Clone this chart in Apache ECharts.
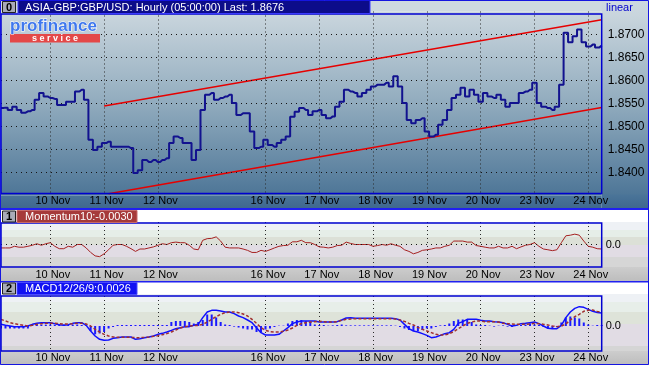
<!DOCTYPE html>
<html><head><meta charset="utf-8">
<script src="https://cdn.jsdelivr.net/npm/echarts@6/dist/echarts.min.js"></script>
<style>html,body{margin:0;padding:0;background:#fff}#c{width:649px;height:365px}</style>
</head><body><div id="c"></div><script>
const dayLabels = ['10 Nov','11 Nov','12 Nov','16 Nov','17 Nov','18 Nov','19 Nov','20 Nov','23 Nov','24 Nov'];
const dayIndex = [11,23,35,59,71,83,95,107,119,131];
const priceTicks = [1.840,1.845,1.850,1.855,1.860,1.865,1.870];
const lastPrice = 1.8676;
const price = [1.8540,1.8541,1.8536,1.8543,1.8536,1.8530,1.8533,1.8536,1.8558,1.8573,
 1.8565,1.8562,1.8560,1.8547,1.8547,1.8554,1.8554,1.8576,1.8580,1.8558,
 1.8471,1.8449,1.8456,1.8464,1.8467,1.8456,1.8456,1.8456,1.8456,1.8453,
 1.8399,1.8405,1.8427,1.8423,1.8427,1.8423,1.8427,1.8431,1.8464,1.8478,
 1.8475,1.8464,1.8464,1.8427,1.8449,1.8536,1.8569,1.8573,1.8558,1.8562,
 1.8565,1.8569,1.8551,1.8525,1.8529,1.8529,1.8489,1.8453,1.8456,1.8471,
 1.8460,1.8456,1.8464,1.8471,1.8478,1.8521,1.8532,1.8540,1.8536,1.8525,
 1.8533,1.8536,1.8525,1.8518,1.8522,1.8543,1.8554,1.8580,1.8576,1.8573,
 1.8565,1.8573,1.8580,1.8587,1.8591,1.8591,1.8595,1.8587,1.8609,1.8587,
 1.8551,1.8514,1.8507,1.8514,1.8518,1.8489,1.8478,1.8482,1.8504,1.8514,
 1.8536,1.8562,1.8569,1.8584,1.8565,1.8580,1.8569,1.8554,1.8573,1.8565,
 1.8562,1.8569,1.8558,1.8543,1.8551,1.8551,1.8573,1.8576,1.8580,1.8595,
 1.8551,1.8543,1.8540,1.8536,1.8543,1.8591,1.8704,1.8683,1.8696,1.8711,
 1.8683,1.8674,1.8678,1.8672,1.8676];
const upperTrend = [[23, 1.85446], [134, 1.8732]];
const lowerTrend = [[24, 1.83539], [134, 1.85411]];
const momentum = [-0.0023,-0.0023,-0.0023,-0.0012,-0.0018,-0.0018,-0.0012,-0.0005,0.0005,-0.0005,
 0.0005,0.0012,-0.0012,-0.0028,-0.0028,-0.0012,-0.0018,0.0000,0.0000,-0.0023,
 -0.0053,-0.0076,-0.0081,-0.0062,-0.0035,-0.0005,0.0000,0.0000,-0.0012,-0.0028,
 -0.0046,-0.0030,-0.0030,-0.0023,-0.0016,-0.0005,0.0005,0.0000,0.0012,0.0016,
 0.0012,0.0012,-0.0005,-0.0030,-0.0035,0.0028,0.0039,0.0041,0.0051,0.0023,
 -0.0018,-0.0023,-0.0023,-0.0023,-0.0030,-0.0039,-0.0053,-0.0053,-0.0039,-0.0046,
 -0.0035,-0.0023,-0.0012,-0.0007,-0.0005,0.0018,0.0018,0.0028,0.0012,0.0012,
 0.0000,-0.0016,-0.0018,-0.0023,-0.0018,-0.0007,-0.0005,0.0016,0.0007,0.0000,
 0.0000,0.0000,0.0000,-0.0012,-0.0007,0.0000,-0.0005,0.0005,-0.0005,-0.0012,
 -0.0035,-0.0046,-0.0062,-0.0053,-0.0039,-0.0035,-0.0030,-0.0023,-0.0023,-0.0012,
 -0.0005,0.0023,0.0023,0.0023,0.0016,0.0016,-0.0007,-0.0012,-0.0018,-0.0023,
 -0.0023,-0.0012,-0.0023,-0.0023,-0.0012,-0.0028,-0.0016,-0.0005,0.0000,0.0012,
 -0.0012,-0.0030,-0.0035,-0.0041,-0.0035,0.0012,0.0058,0.0062,0.0069,0.0062,
 0.0023,-0.0012,-0.0018,-0.0028,-0.0030];
const macd = [0.00033,0.00013,0,-0.00013,-0.00013,-0.00013,0,0.00033,0.00053,0.00067,
 0.00067,0.00067,0.00047,0.00027,0.00013,0.00027,0.00053,0.00067,0.00067,0.00013,
 -0.0010,-0.0020,-0.00267,-0.00287,-0.0028,-0.00247,-0.00233,-0.0022,-0.0022,-0.0022,
 -0.00267,-0.00253,-0.00233,-0.0022,-0.0020,-0.00167,-0.00147,-0.0012,-0.00087,-0.00053,
 -0.00033,-0.00013,-0.00013,0.00013,0.00033,0.00167,0.0028,0.00313,0.00313,0.0030,
 0.0028,0.0028,0.00247,0.0020,0.00167,0.0012,0.00067,-0.00033,-0.00133,-0.0018,
 -0.0018,-0.0018,-0.00167,-0.0010,-0.00033,0.00047,0.0008,0.0010,0.0010,0.0010,
 0.0010,0.0008,0.0008,0.0008,0.0008,0.00087,0.0012,0.0016,0.00167,0.00153,
 0.00153,0.00153,0.00153,0.00153,0.00153,0.00153,0.00153,0.00153,0.00147,0.0012,
 0.00033,-0.00053,-0.0010,-0.0012,-0.00153,-0.00187,-0.00233,-0.0022,-0.00187,-0.00153,
 -0.00133,-0.00067,0.00053,0.00087,0.00133,0.00133,0.00133,0.00113,0.0010,0.0010,
 0.00087,0.0008,0.00067,0.00033,0,0.00013,0.00047,0.00053,0.00067,0.0008,
 0.00047,0,-0.00047,-0.00053,-0.00053,0.00013,0.00167,0.0028,0.00353,0.00387,
 0.00373,0.00333,0.00293,0.0027,0.0026];
const signal = [0.00133,0.0010,0.00067,0.00047,0.00027,0.00013,0,0.00013,0.00033,0.00047,
 0.00053,0.00053,0.00053,0.00047,0.0004,0.0004,0.00047,0.00053,0.00053,0.0004,
 0,-0.00067,-0.0012,-0.00167,-0.0020,-0.0022,-0.00227,-0.00227,-0.00227,-0.00227,
 -0.00233,-0.00233,-0.00227,-0.0022,-0.00207,-0.00193,-0.00173,-0.00153,-0.0012,-0.0008,
 -0.0004,-0.00013,0,0.00007,0.00013,0.00033,0.0008,0.00133,0.00187,0.00233,
 0.00267,0.0028,0.0028,0.00267,0.0024,0.0020,0.00133,0.00053,-0.00033,-0.00087,
 -0.00113,-0.0012,-0.0012,-0.00107,-0.0008,-0.0004,0.00013,0.00047,0.00067,0.0008,
 0.00087,0.00093,0.00087,0.0008,0.0008,0.00087,0.00113,0.00133,0.0014,0.00147,
 0.00147,0.00147,0.00147,0.00147,0.00147,0.00147,0.00147,0.00147,0.0014,0.0012,
 0.00093,0.00053,0.0002,-0.00027,-0.00067,-0.0010,-0.00133,-0.00167,-0.0018,-0.0018,
 -0.00153,-0.00113,-0.00053,0,0.00053,0.0008,0.0010,0.0010,0.00087,0.00087,
 0.00087,0.0008,0.00053,0.00047,0.0004,0.00033,0.00033,0.00033,0.0004,0.00053,
 0.00047,0.00033,0.0002,0,-0.00013,0,0.0004,0.0012,0.00187,0.00233,
 0.00293,0.00313,0.0032,0.0029,0.0028];
const hist = [-0.0005,-0.0005,-0.0005,-0.0005,-0.0005,-0.0005,-0.0005,0.00027,0.00027,0.00027,
 0.00027,0.0003,0.0002,0.0003,0.0003,0.0002,0.0003,0.0003,0.0002,0.0002,
 -0.0010,-0.00167,-0.0015,-0.0012,-0.0005,-0.0002,0.0002,0.0002,0.0002,0.0002,
 0.0002,0.0002,0.0002,0.0002,0.0002,0.0002,0.0002,0.0002,0.0008,0.0010,
 0.0010,0.0010,0.0008,0.0005,0.0008,0.0012,0.0023,0.0023,0.0017,0.0008,
 0.0003,0.0002,-0.00013,-0.0003,-0.0005,-0.0007,-0.0007,-0.0012,-0.0012,-0.0007,
 -0.0005,-0.0002,0.00007,0.00007,0.0005,0.0010,0.0012,0.0012,0.0010,0.0008,
 0.0003,0.0002,0.0002,0.00007,0.00013,0.0002,0.0003,0.00013,0.00013,0.00013,
 0.00013,0.00013,0.00013,0.00013,0.00013,0.00013,0.00013,0.00013,0.00007,-0.0002,
 -0.0005,-0.0008,-0.0010,-0.0010,-0.0008,-0.0005,-0.0005,-0.0002,0.00013,0.0002,
 0.0005,0.0010,0.0013,0.0013,0.0012,0.0008,0.0003,0.0002,0.0002,0.00007,
 -0.00013,0.00007,0.00013,-0.00013,-0.0002,0.00013,0.0002,0.0003,0.0005,0.0003,
 0.0002,-0.0002,-0.0005,-0.0005,-0.0002,0.0007,0.0017,0.0019,0.0017,0.0015,
 0.0007,0.0003,0.00007,0.0002,0.0002];
const titleText = 'ASIA-GBP:GBP/USD: Hourly (05:00:00) Last: ' + lastPrice.toFixed(4);
const momLabel = 'Momentum10:' + momentum[momentum.length - 1].toFixed(4);
const macdLabel = 'MACD12/26/9:' + macd[macd.length - 1].toFixed(4);

const FONT = '"Liberation Sans", Arial, sans-serif';
const categories = price.map((_, i) => { const k = dayIndex.indexOf(i); return k >= 0 ? dayLabels[k] : ('#' + i); });
const isDay = (idx) => dayIndex.indexOf(idx) >= 0;

function bands(stops) {
  const cs = [];
  for (let i = 0; i < stops.length; i++) {
    const s = stops[i];
    const next = i + 1 < stops.length ? stops[i + 1][0] : 1;
    cs.push({offset: s[0], color: s[1]}, {offset: next, color: s[1]});
  }
  return {type: 'linear', x: 0, y: 0, x2: 0, y2: 1, colorStops: cs};
}
const grad = (stops) => ({type:'linear', x:0, y:0, x2:0, y2:1, colorStops: stops.map(s => ({offset:s[0], color:s[1]}))});

function xAxisFor(gi, margin) {
  return {
    type: 'category', gridIndex: gi, data: categories, boundaryGap: false,
    axisLine: {show: false}, axisTick: {show: false},
    axisLabel: {interval: (idx) => isDay(idx), color: '#000', fontSize: 11, fontFamily: FONT, margin: margin, padding: [0,0,0,5]},
    splitLine: {show: true, interval: (idx) => isDay(idx), lineStyle: {color: '#2a2a2a', type: [1, 3], width: 1}}
  };
}
const dotted = {color: '#151515', type: [1, 4], width: 1};
const gridLines = (values) => ({silent: true, symbol: 'none', animation: false, label: {show: false},
  lineStyle: dotted, emphasis: {disabled: true}, data: values.map(v => ({yAxis: v}))});
const bg = (shape, fill) => ({type: 'rect', zlevel: -1, z: 0, silent: true, shape: shape, style: {fill: fill}});
const mainGrad = grad([[0, '#ced9e0'], [0.07, '#c9d5dd'], [0.48, '#93adbf'], [0.925, '#4f7798'], [0.935, '#4a7498'], [1, '#3e678e']]);
const momBands = [[0, '#eef1f5'], [0.178, '#e6eee8'], [0.333, '#dce0d7'], [0.511, '#e1dce4'], [0.778, '#d6d6d6']];
const macdBands = [[0, '#eef1f5'], [0.109, '#e7eee9'], [0.291, '#dee3d9'], [0.509, '#e1dce4'], [0.909, '#d5d5d5']];

const chart = echarts.init(document.getElementById('c'), null, {renderer: 'canvas'});
chart.setOption({
  animation: false,
  backgroundColor: '#ffffff',
  grid: [
    {left: 1, top: 11.5, width: 600.7, height: 184, show: true, borderWidth: 0,
     backgroundColor: grad([[0, '#cad6de'], [0.014, '#c9d5dd'], [0.481, '#93adbf'], [0.986, '#4f7798'], [1, '#4a7498']])},
    {left: 1, top: 222, width: 600.7, height: 45, show: true, borderWidth: 0, backgroundColor: bands(momBands)},
    {left: 1, top: 296, width: 600.7, height: 55, show: true, borderWidth: 0, backgroundColor: bands(macdBands)}
  ],
  xAxis: [xAxisFor(0, 0), xAxisFor(1, 2), xAxisFor(2, 1)],
  yAxis: [
    {type: 'value', gridIndex: 0, position: 'right', min: 1.835, max: 1.875, interval: 0.005,
     axisLine: {show: false}, axisTick: {show: false},
     axisLabel: {color: '#000', fontSize: 12, fontFamily: FONT, margin: 6, showMinLabel: false, showMaxLabel: false,
       formatter: (v) => v.toFixed(4)},
     splitLine: {show: true, showMinLine: false, showMaxLine: false, lineStyle: dotted}},
    {type: 'value', gridIndex: 1, position: 'right', min: -0.015, max: 0.015, interval: 0.015,
     axisLine: {show: false}, axisTick: {show: false},
     axisLabel: {color: '#000', fontSize: 11, fontFamily: FONT, margin: 4, formatter: (v) => Math.abs(v) < 1e-9 ? '0.0' : ''},
     splitLine: {show: true, showMinLine: false, showMaxLine: false, lineStyle: dotted}},
    {type: 'value', gridIndex: 2, position: 'right', min: -0.005, max: 0.006, interval: 0.001,
     axisLine: {show: false}, axisTick: {show: false},
     axisLabel: {color: '#000', fontSize: 11, fontFamily: FONT, margin: 4, formatter: (v) => Math.abs(v) < 1e-9 ? '0.0' : ''},
     splitLine: {show: false}}
  ],
  series: [
    {type: 'line', name: 'GBP/USD', xAxisIndex: 0, yAxisIndex: 0, data: price, symbol: 'none', step: 'middle', clip: false,
     lineStyle: {color: '#12128f', width: 2}, z: 5,
     markLine: {silent: true, symbol: 'none', animation: false,
       lineStyle: {opacity: 0},
       label: {show: true, position: 'end', distance: 1,
         formatter: '{a|◀}{b|' + lastPrice.toFixed(4) + '}',
         rich: {a: {color: '#858585', fontSize: 10, fontFamily: 'DejaVu Sans', padding: [0, -1, 0, 0]},
                b: {backgroundColor: '#858585', color: '#f2f2f2', fontSize: 12, fontFamily: FONT, padding: [1, 2, 0, 1]}}},
       data: [{yAxis: lastPrice}]}},
    {type: 'line', name: 'upper', xAxisIndex: 0, yAxisIndex: 0, data: upperTrend, symbol: 'none', lineStyle: {color: '#e60000', width: 1.5}, z: 4},
    {type: 'line', name: 'lower', xAxisIndex: 0, yAxisIndex: 0, data: lowerTrend, symbol: 'none', lineStyle: {color: '#e60000', width: 1.5}, z: 3,
     markLine: gridLines(priceTicks)},
    {type: 'line', name: 'Momentum', xAxisIndex: 1, yAxisIndex: 1, data: momentum, symbol: 'none', lineStyle: {color: '#a52020', width: 1},
     markLine: gridLines([0])},
    {type: 'bar', name: 'Hist', xAxisIndex: 2, yAxisIndex: 2, data: hist, barWidth: 2, itemStyle: {color: '#1a1aff'}},
    {type: 'line', name: 'MACD', xAxisIndex: 2, yAxisIndex: 2, data: macd, symbol: 'none', lineStyle: {color: '#1010ff', width: 1.5}, z: 4},
    {type: 'line', name: 'Signal', xAxisIndex: 2, yAxisIndex: 2, data: signal, symbol: 'none', lineStyle: {color: '#a03030', width: 1.5, type: [3, 2]}, z: 4}
  ],
  graphic: [
    bg({x: 0, y: 0, width: 649, height: 365}, '#ffffff'),
    bg({x: 0, y: 0, width: 649, height: 11.5}, '#ced9e0'),
    bg({x: 601.7, y: 0, width: 47.3, height: 209}, mainGrad),
    bg({x: 0, y: 195.5, width: 601.7, height: 13.5}, grad([[0, '#4a7498'], [1, '#3e678e']])),
    bg({x: 0, y: 208, width: 649, height: 2}, '#2020f0'),
    bg({x: 601.7, y: 222, width: 47.3, height: 45}, bands(momBands)),
    bg({x: 0, y: 267, width: 649, height: 14}, grad([[0, '#cdcdcd'], [1, '#bdbdbd']])),
    bg({x: 0, y: 281, width: 649, height: 1.5}, '#2020f0'),
    bg({x: 0, y: 294, width: 649, height: 2}, '#eef1f5'),
    bg({x: 601.7, y: 296, width: 47.3, height: 55}, bands(macdBands)),
    bg({x: 0, y: 351, width: 649, height: 14}, grad([[0, '#cdcdcd'], [1, '#bdbdbd']])),

    {type: 'rect', z: 20, silent: true, shape: {x: 1, y: 14, width: 600.7, height: 179.5}, style: {fill: 'none', stroke: '#0000d0', lineWidth: 1.5}},
    {type: 'rect', z: 20, silent: true, shape: {x: 1, y: 223, width: 600.7, height: 44}, style: {fill: 'none', stroke: '#0000d0', lineWidth: 1.5}},
    {type: 'rect', z: 20, silent: true, shape: {x: 1, y: 296, width: 600.7, height: 55}, style: {fill: 'none', stroke: '#0000d0', lineWidth: 1.5}},

    {type: 'rect', z: 21, silent: true, shape: {x: 18, y: 0.5, width: 352, height: 13}, style: {fill: '#0c0c8a', stroke: '#3a3aff', lineWidth: 1}},
    {type: 'text', z: 22, silent: true, x: 25, y: 7.5, style: {text: titleText, fill: '#ffffff', font: '11px ' + FONT, textVerticalAlign: 'middle'}},
    {type: 'text', z: 22, silent: true, x: 606, y: 8, style: {text: 'linear', fill: '#0000cc', font: '11px ' + FONT, textVerticalAlign: 'middle'}},

    {type: 'rect', z: 21, silent: true, shape: {x: 17, y: 210.5, width: 120, height: 12}, style: {fill: '#a63a3a', stroke: '#c86a6a', lineWidth: 1}},
    {type: 'text', z: 22, silent: true, x: 25, y: 216.5, style: {text: momLabel, fill: '#ffffff', font: '11px ' + FONT, textVerticalAlign: 'middle'}},
    {type: 'rect', z: 21, silent: true, shape: {x: 17, y: 282.5, width: 120, height: 12}, style: {fill: '#1212f2', stroke: '#4a4aff', lineWidth: 1}},
    {type: 'text', z: 22, silent: true, x: 25, y: 288.5, style: {text: macdLabel, fill: '#ffffff', font: '11px ' + FONT, textVerticalAlign: 'middle'}},

    {type: 'rect', z: 21, silent: true, shape: {x: 2.5, y: 1.5, width: 13, height: 11}, style: {fill: '#a9abb8', stroke: '#202020', lineWidth: 1}},
    {type: 'text', z: 22, silent: true, x: 9, y: 7.5, style: {text: '0', fill: '#000', font: 'bold 11px ' + FONT, textAlign: 'center', textVerticalAlign: 'middle'}},
    {type: 'rect', z: 21, silent: true, shape: {x: 2.5, y: 211, width: 13, height: 11}, style: {fill: '#a9abb8', stroke: '#202020', lineWidth: 1}},
    {type: 'text', z: 22, silent: true, x: 9, y: 216.5, style: {text: '1', fill: '#000', font: 'bold 11px ' + FONT, textAlign: 'center', textVerticalAlign: 'middle'}},
    {type: 'rect', z: 21, silent: true, shape: {x: 2.5, y: 283, width: 13, height: 11}, style: {fill: '#a9abb8', stroke: '#202020', lineWidth: 1}},
    {type: 'text', z: 22, silent: true, x: 9, y: 288.5, style: {text: '2', fill: '#000', font: 'bold 11px ' + FONT, textAlign: 'center', textVerticalAlign: 'middle'}},

    {type: 'text', z: 22, silent: true, x: 10, y: 26, style: {text: 'profinance', fill: '#3f78ee', stroke: '#ffffff', lineWidth: 1, font: 'bold 17px ' + FONT, textVerticalAlign: 'middle'}},
    {type: 'rect', z: 21, silent: true, shape: {x: 10, y: 34, width: 90, height: 8.5}, style: {fill: '#e44848'}},
    {type: 'text', z: 22, silent: true, x: 55, y: 38.5, style: {text: 's e r v i c e', fill: '#ffffff', font: 'bold 9px ' + FONT, textAlign: 'center', textVerticalAlign: 'middle'}},

    {type: 'rect', z: 30, silent: true, shape: {x: 0.5, y: 0.5, width: 648, height: 364}, style: {fill: 'none', stroke: '#1515e0', lineWidth: 1}}
  ]
});
</script></body></html>
